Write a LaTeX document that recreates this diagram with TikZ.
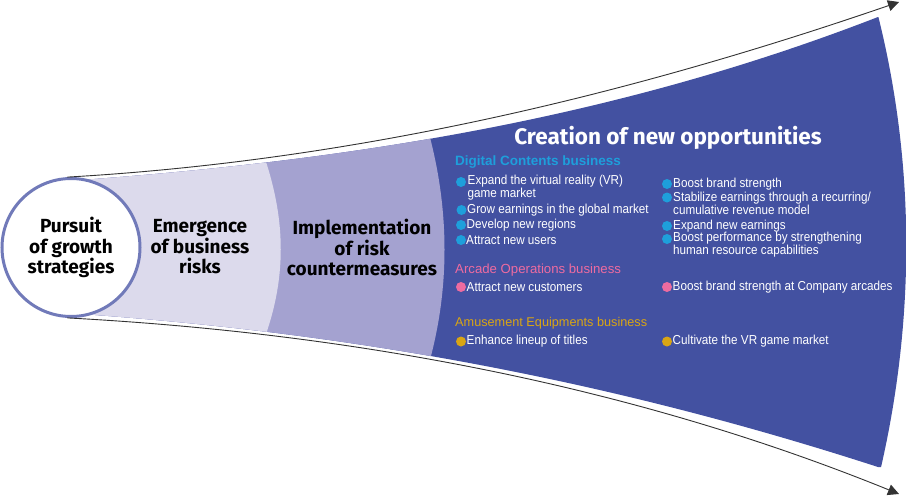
\documentclass[tikz,border=0pt]{standalone}
\usepackage{fontspec}
\setmainfont{Fira Sans}
\newfontfamily\narrowfont[FakeStretch=0.9]{Liberation Sans}
\newfontfamily\headfont{Liberation Sans}
\usepackage{xcolor}
\usetikzlibrary{arrows.meta}

\definecolor{oppblue}{HTML}{4351A1}
\definecolor{riskmid}{HTML}{A4A2D0}
\definecolor{risklight}{HTML}{DCDAEC}
\definecolor{ringblue}{HTML}{717AB9}
\definecolor{digicyan}{HTML}{1E9FDB}
\definecolor{arcpink}{HTML}{EE6BA0}
\definecolor{amugold}{HTML}{D9A514}
\definecolor{linegray}{HTML}{333333}

\begin{document}
\begin{tikzpicture}[x=1pt, y=-1pt,
	stage/.style={align=center, font=\bfseries\fontsize{19}{20.5}\selectfont},
	bizhead/.style={anchor=base west, inner sep=0pt, font=\headfont\fontsize{13.2}{13.2}\selectfont},
	bul/.style={circle, fill=#1, inner sep=0pt, minimum size=10pt},
	itm/.style={anchor=west, inner sep=0pt, text=white, align=left, font=\narrowfont\fontsize{13}{12}\selectfont},
	funnel/.style={draw=linegray, line width=0.9pt, -{Triangle[length=11pt,width=11pt]}}]
	\useasboundingbox (0,0) rectangle (906,496);
	% the widening bands
	\begin{scope}
		\clip (67,181) .. controls (367,160) and (628,114) .. (878,17) -- (910,17) -- (910,467) -- (878,467) .. controls (628,386) and (367,333) .. (67,313) -- cycle;
		\fill[oppblue] (0,0) -- (874,0) .. controls (917,160) and (917,330) .. (874,496) -- (0,496) -- cycle;
		\fill[riskmid] (0,100) -- (426,100) -- (428,130) .. controls (450,210) and (450,290) .. (428,367) -- (426,400) -- (0,400) -- cycle;
		\fill[risklight] (0,120) -- (262,120) -- (262,150) .. controls (287,220) and (287,280) .. (262,345) -- (262,380) -- (0,380) -- cycle;
	\end{scope}

	\node[circle, draw=ringblue, line width=3pt, fill=white, minimum size=138pt, inner sep=0pt, stage] (pursuit) at (71,247.5) {Pursuit\\of growth\\strategies};
	\coordinate (topend) at (899,2);
	\coordinate (botend) at (899,494);
	\draw[funnel] (pursuit.93) .. controls (367,160) and (643,90) .. (topend);
	\draw[funnel] (pursuit.267) .. controls (367,334) and (643,390) .. (botend);

	\node[stage] (emerge) at (200,247) {Emergence\\of business\\risks};
	\node[stage] (implement) at (362,247.5) {Implementation\\of risk\\countermeasures};

	\node[text=white, font=\bfseries\fontsize{22.5}{22.5}\selectfont] (opps) at (668,138) {Creation of new opportunities};

	\node[bizhead, text=digicyan, font=\headfont\bfseries\fontsize{13.5}{13.5}\selectfont] (digital) at (455,165.7) {Digital Contents business};
	\node[bul=digicyan] (d1) at (461,182) {};
	\node[itm] (d1t) at (467.5,188) {Expand the virtual reality (VR)\\game market};
	\node[bul=digicyan] (d2) at (461.5,210) {};
	\node[itm] (d2t) at (467,210) {Grow earnings in the global market};
	\node[bul=digicyan] (d3) at (461,225) {};
	\node[itm] (d3t) at (466.5,225) {Develop new regions};
	\node[bul=digicyan] (d4) at (461,240) {};
	\node[itm] (d4t) at (466,240) {Attract new users};
	\node[bul=digicyan] (d5) at (667,184) {};
	\node[itm] (d5t) at (673,184) {Boost brand strength};
	\node[bul=digicyan] (d6) at (667,197.5) {};
	\node[itm] (d6t) at (673,203.5) {Stabilize earnings through a recurring/\\cumulative revenue model};
	\node[bul=digicyan] (d7) at (667,226) {};
	\node[itm] (d7t) at (673,226) {Expand new earnings};
	\node[bul=digicyan] (d8) at (667,239) {};
	\node[itm] (d8t) at (673,245) {Boost performance by strengthening\\human resource capabilities};

	\node[bizhead, text=arcpink] (arcade) at (455,273) {Arcade Operations business};
	\node[bul=arcpink] (a1) at (461,287) {};
	\node[itm] (a1t) at (466.5,287) {Attract new customers};
	\node[bul=arcpink] (a2) at (667,287) {};
	\node[itm] (a2t) at (672.5,287) {Boost brand strength at Company arcades};

	\node[bizhead, text=amugold, font=\headfont\fontsize{12.7}{12.7}\selectfont] (amuse) at (455,326) {Amusement Equipments business};
	\node[bul=amugold] (m1) at (461,341.5) {};
	\node[itm] (m1t) at (466.5,341.5) {Enhance lineup of titles};
	\node[bul=amugold] (m2) at (667,341.5) {};
	\node[itm] (m2t) at (672.5,341.5) {Cultivate the VR game market};
\end{tikzpicture}
\end{document}
